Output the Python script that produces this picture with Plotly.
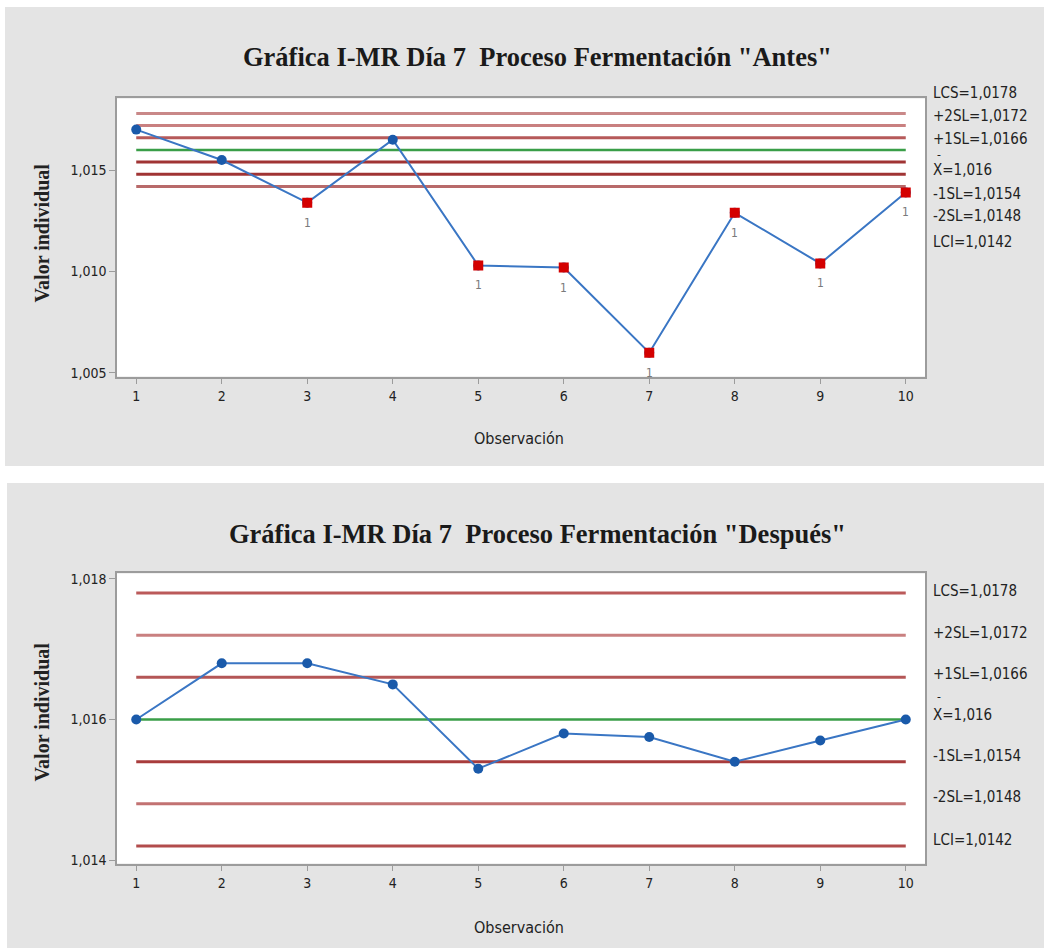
import plotly.graph_objects as go

# ---- data ----
observaciones = list(range(1, 11))
antes = [1.0170, 1.0155, 1.0134, 1.0165, 1.0103, 1.0102, 1.0060, 1.0129, 1.0104, 1.0139]
despues = [1.0160, 1.0168, 1.0168, 1.0165, 1.0153, 1.0158, 1.01575, 1.0154, 1.0157, 1.0160]
# observations failing test 1 in the "Antes" chart
fallas_antes = [3, 5, 6, 7, 8, 9, 10]

limite_nombres = ["LCS", "+2SL", "+1SL", "X", "-1SL", "-2SL", "LCI"]
limite_valores = [1.0178, 1.0172, 1.0166, 1.016, 1.0154, 1.0148, 1.0142]

titulos = ['Gráfica I-MR Día 7\u00a0 Proceso Fermentación "Antes"',
           'Gráfica I-MR Día 7\u00a0 Proceso Fermentación "Después"']
ytick_antes = [1.005, 1.010, 1.015]
ytick_despues = [1.014, 1.016, 1.018]

# ---- styling ----
W, H = 1044, 952
GREY = "#e4e4e4"
SANS = "Liberation Sans Narrow, DejaVu Sans Condensed, Roboto Condensed, Arial Narrow, sans-serif"
SERIF = "Liberation Serif, Times New Roman, serif"
line_colors_top = ["#c98888", "#c98080", "#b65a5a", None, "#a03434", "#a03434", "#b86a6a"]
line_colors_bot = ["#bb5a5a", "#c98080", "#b45656", None, "#a83c3c", "#c27272", "#b24c4c"]
GREEN = "#3a9e48"
BLUE_LINE = "#3a76c4"
BLUE_MARK = "#1a5aaa"
RED_MARK = "#d40000"


def px_x(p):
    return p / W


def px_y(p):
    return 1 - p / H


def fmt(v):
    return f"{v:.4f}".rstrip("0").replace(".", ",")


fig = go.Figure()

# panel geometry (pixels)
panels = [
    dict(bg=(5, 5, 1044, 467), plot=(117, 97, 925, 377)),
    dict(bg=(7, 484, 1044, 952), plot=(117, 575, 925, 867)),
]

shapes = []
for p in panels:
    x0, y0, x1, y1 = p["bg"]
    shapes.append(dict(type="rect", xref="paper", yref="paper", layer="below",
                       x0=px_x(x0), x1=px_x(x1), y0=px_y(y1), y1=px_y(y0),
                       fillcolor=GREY, line=dict(width=0)))
    x0, y0, x1, y1 = p["plot"]
    shapes.append(dict(type="rect", xref="paper", yref="paper", layer="below",
                       x0=px_x(x0), x1=px_x(x1), y0=px_y(y1), y1=px_y(y0),
                       fillcolor="white", line=dict(width=0)))

series = [antes, despues]
axes = [("x", "y"), ("x2", "y2")]
colors_sets = [line_colors_top, line_colors_bot]

for i, (vals, (xa, ya)) in enumerate(zip(series, axes)):
    # control limit and center lines
    for name, val, col in zip(limite_nombres, limite_valores, colors_sets[i]):
        fig.add_trace(go.Scatter(
            x=[observaciones[0], observaciones[-1]], y=[val, val], mode="lines",
            line=dict(color=GREEN if name == "X" else col, width=2.5 if name == "X" else 3),
            xaxis=xa, yaxis=ya, hoverinfo="skip", showlegend=False))
    # data line
    fig.add_trace(go.Scatter(
        x=observaciones, y=vals, mode="lines+markers",
        line=dict(color=BLUE_LINE, width=2),
        marker=dict(color=BLUE_MARK, size=10, symbol="circle"),
        xaxis=xa, yaxis=ya, showlegend=False))

# flagged points in "Antes"
fx = [o for o in observaciones if o in fallas_antes]
fy = [antes[o - 1] for o in fx]
fig.add_trace(go.Scatter(x=fx, y=fy, mode="markers",
                         marker=dict(color=RED_MARK, size=10, symbol="square"),
                         xaxis="x", yaxis="y", showlegend=False))

annotations = []
for o, v in zip(fx, fy):
    annotations.append(dict(x=o, y=v, xref="x", yref="y", text="1", showarrow=False,
                            yshift=-20, font=dict(family=SANS, size=12, color="#7a7a7a")))

# titles
for t, cy in zip(titulos, [55, 535]):
    annotations.append(dict(x=px_x(537), y=px_y(cy), xref="paper", yref="paper", text=f"<b>{t}</b>",
                            showarrow=False, xanchor="center", yanchor="middle",
                            font=dict(family=SERIF, size=26.5, color="#1a1a1a")))

# axis titles
for cy in [233, 715]:
    annotations.append(dict(x=px_x(42), y=px_y(cy), xref="paper", yref="paper",
                            text="<b>Valor individual</b>", textangle=-90, showarrow=False,
                            xanchor="center", yanchor="middle",
                            font=dict(family=SERIF, size=20, color="#222222")))
for cy in [439, 931]:
    annotations.append(dict(x=px_x(519), y=px_y(cy), xref="paper", yref="paper",
                            text="Observación", showarrow=False, xanchor="center", yanchor="middle",
                            font=dict(family=SANS, size=16, color="#222222")))

# limit labels on the right
label_pos = [[92, 115, 138, 169, 193, 215, 242], [593, 635, 676, 718, 759, 800, 843]]
bar_pos = [154, 699]
for k in range(2):
    for name, val, cy in zip(limite_nombres, limite_valores, label_pos[k]):
        annotations.append(dict(x=px_x(931), y=px_y(cy), xref="paper", yref="paper",
                                text=f"{name}={fmt(val)}", showarrow=False,
                                xanchor="left", yanchor="middle",
                                font=dict(family=SANS, size=15, color="#222222")))
    annotations.append(dict(x=px_x(935), y=px_y(bar_pos[k]), xref="paper", yref="paper",
                            text="-", showarrow=False, xanchor="left", yanchor="middle",
                            font=dict(family=SANS, size=12, color="#222222")))

axis_common = dict(showgrid=False, zeroline=False, showline=True, mirror=True,
                   linecolor="#9c9c9c", linewidth=1.5, ticks="outside", ticklen=6,
                   tickcolor="#9c9c9c", tickfont=dict(family=SANS, size=14, color="#222222"))

top_dom = [px_y(377), px_y(97)]
bot_dom = [px_y(867), px_y(575)]
xdom = [px_x(117), px_x(925)]

fig.update_layout(
    width=W, height=H, margin=dict(l=0, r=0, t=0, b=0),
    paper_bgcolor="white", plot_bgcolor="rgba(0,0,0,0)",
    separators=",.",
    shapes=shapes, annotations=annotations,
    xaxis=dict(domain=xdom, anchor="y", range=[0.775, 10.225], tickvals=observaciones, **axis_common),
    yaxis=dict(domain=top_dom, anchor="x", range=[1.00482, 1.01854], tickvals=ytick_antes,
               tickformat=".3f", **axis_common),
    xaxis2=dict(domain=xdom, anchor="y2", range=[0.775, 10.225], tickvals=observaciones, **axis_common),
    yaxis2=dict(domain=bot_dom, anchor="x2", range=[1.01395, 1.01808], tickvals=ytick_despues,
                tickformat=".3f", **axis_common),
)

fig.write_html("out.html")
